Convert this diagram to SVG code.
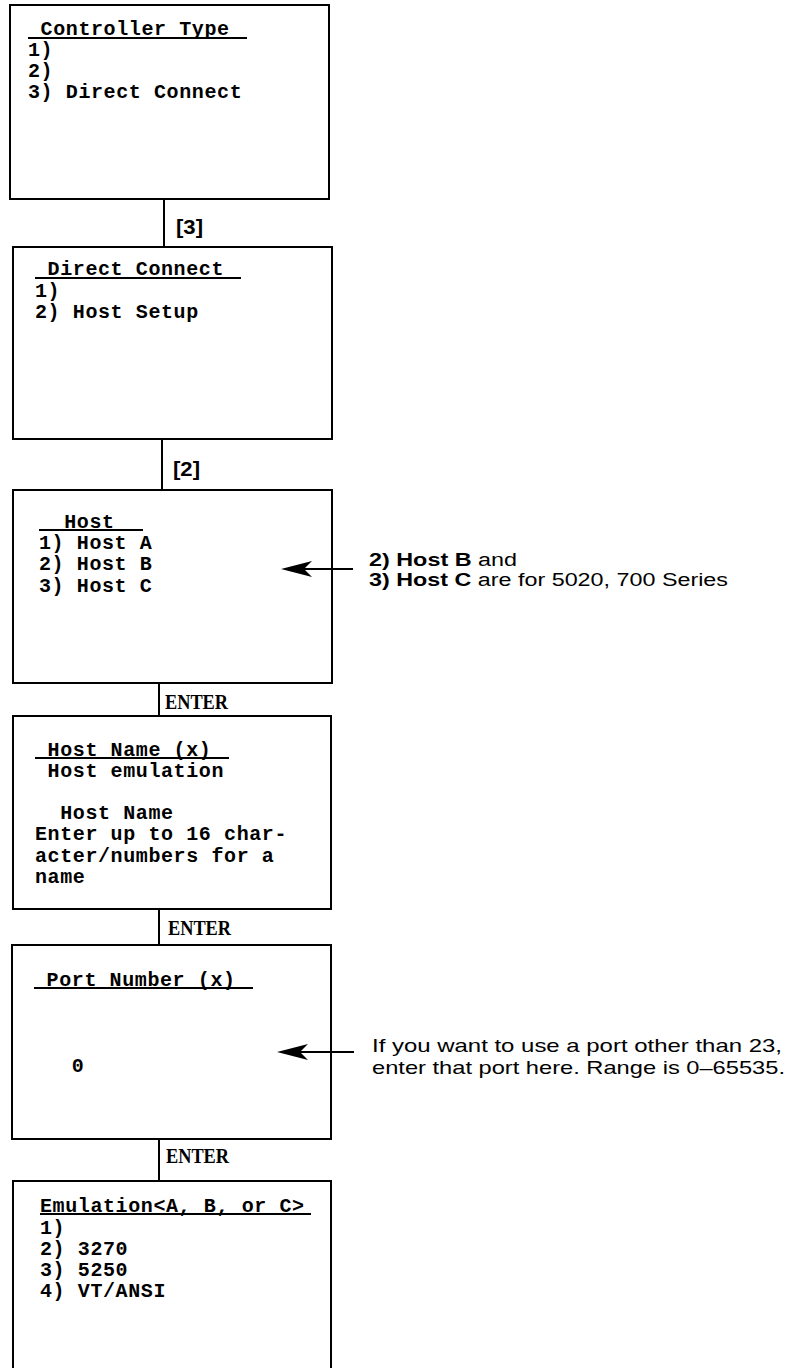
<svg xmlns="http://www.w3.org/2000/svg" width="789" height="1368" viewBox="0 0 789 1368">
<style>
.box{fill:#fff;stroke:#000;stroke-width:2}
.scr{font-family:"Liberation Mono","DejaVu Sans Mono",monospace;font-weight:bold;font-size:20px;letter-spacing:0.6px;fill:#000;white-space:pre}
.ul{stroke:#000;stroke-width:2}
.conn{stroke:#000;stroke-width:2;fill:none}
.key{font-family:"Liberation Sans",Arial,sans-serif;font-weight:bold;font-size:20px;fill:#000}
.ent{font-family:"Liberation Serif","Times New Roman",serif;font-weight:bold;font-size:21px;fill:#000}
.note{font-family:"Liberation Sans",Arial,sans-serif;font-size:19px;fill:#000}
.note2{font-size:18px}
.b{font-weight:bold}
</style>
<defs>
<path id="ah" d="M0,0 L31,-8 L23,0 L31,8 Z" fill="#000"/>
</defs>
<rect width="789" height="1368" fill="#fff"/>

<g id="connectors">
<line class="conn" x1="164" y1="199" x2="164" y2="247"/>
<text class="key" x="176" y="234" textLength="27" lengthAdjust="spacingAndGlyphs">[3]</text>
<line class="conn" x1="162" y1="439" x2="162" y2="490"/>
<text class="key" x="173" y="476" textLength="27" lengthAdjust="spacingAndGlyphs">[2]</text>
<line class="conn" x1="159" y1="683" x2="159" y2="716"/>
<text class="ent" x="165" y="709" textLength="63" lengthAdjust="spacingAndGlyphs">ENTER</text>
<line class="conn" x1="159" y1="909" x2="159" y2="945"/>
<text class="ent" x="168" y="935" textLength="63" lengthAdjust="spacingAndGlyphs">ENTER</text>
<line class="conn" x1="159" y1="1139" x2="159" y2="1181"/>
<text class="ent" x="166" y="1163" textLength="63" lengthAdjust="spacingAndGlyphs">ENTER</text>
</g>

<g id="node-controller-type">
<rect class="box" x="10" y="5" width="319" height="194"/>
<text class="scr" x="28" y="35"> Controller Type </text>
<line class="ul" x1="28" y1="38" x2="247" y2="38"/>
<text class="scr" x="28" y="56">1)</text>
<text class="scr" x="28" y="77">2)</text>
<text class="scr" x="28" y="98">3) Direct Connect</text>
</g>

<g id="node-direct-connect">
<rect class="box" x="13" y="247" width="319" height="192"/>
<text class="scr" x="35" y="275"> Direct Connect </text>
<line class="ul" x1="35" y1="278" x2="241" y2="278"/>
<text class="scr" x="35" y="297">1)</text>
<text class="scr" x="35" y="318">2) Host Setup</text>
</g>

<g id="node-host">
<rect class="box" x="13" y="490" width="319" height="193"/>
<text class="scr" x="39" y="528">  Host  </text>
<line class="ul" x1="39" y1="530" x2="143" y2="530"/>
<text class="scr" x="39" y="549">1) Host A</text>
<text class="scr" x="39" y="570">2) Host B</text>
<text class="scr" x="39" y="592">3) Host C</text>
</g>

<g id="note-host">
<line class="conn" x1="300" y1="569" x2="353" y2="569"/>
<use href="#ah" x="281" y="569"/>
<text class="note note2" x="369" y="566" textLength="148" lengthAdjust="spacingAndGlyphs"><tspan class="b">2) Host B</tspan> and</text>
<text class="note note2" x="369" y="586" textLength="359" lengthAdjust="spacingAndGlyphs"><tspan class="b">3) Host C</tspan> are for 5020, 700 Series</text>
</g>

<g id="node-host-name">
<rect class="box" x="13" y="716" width="318" height="193"/>
<text class="scr" x="35" y="756"> Host Name (x) </text>
<line class="ul" x1="35" y1="758" x2="229" y2="758"/>
<text class="scr" x="35" y="777"> Host emulation</text>
<text class="scr" x="35" y="819">  Host Name</text>
<text class="scr" x="35" y="840">Enter up to 16 char-</text>
<text class="scr" x="35" y="862">acter/numbers for a</text>
<text class="scr" x="35" y="883">name</text>
</g>

<g id="node-port-number">
<rect class="box" x="12" y="945" width="319" height="194"/>
<text class="scr" x="34" y="986"> Port Number (x) </text>
<line class="ul" x1="34" y1="988" x2="253" y2="988"/>
<text class="scr" x="34" y="1072">   0</text>
</g>

<g id="note-port">
<line class="conn" x1="296" y1="1052" x2="354" y2="1052"/>
<use href="#ah" x="277" y="1052"/>
<text class="note" x="372" y="1052" textLength="410" lengthAdjust="spacingAndGlyphs">If you want to use a port other than 23,</text>
<text class="note" x="372" y="1074" textLength="413" lengthAdjust="spacingAndGlyphs">enter that port here. Range is 0–65535.</text>
</g>

<g id="node-emulation">
<rect class="box" x="13" y="1181" width="318" height="200"/>
<text class="scr" x="40" y="1212">Emulation&lt;A, B, or C&gt;</text>
<line class="ul" x1="40" y1="1214" x2="311" y2="1214"/>
<text class="scr" x="40" y="1234">1)</text>
<text class="scr" x="40" y="1255">2) 3270</text>
<text class="scr" x="40" y="1276">3) 5250</text>
<text class="scr" x="40" y="1297">4) VT/ANSI</text>
</g>
</svg>
